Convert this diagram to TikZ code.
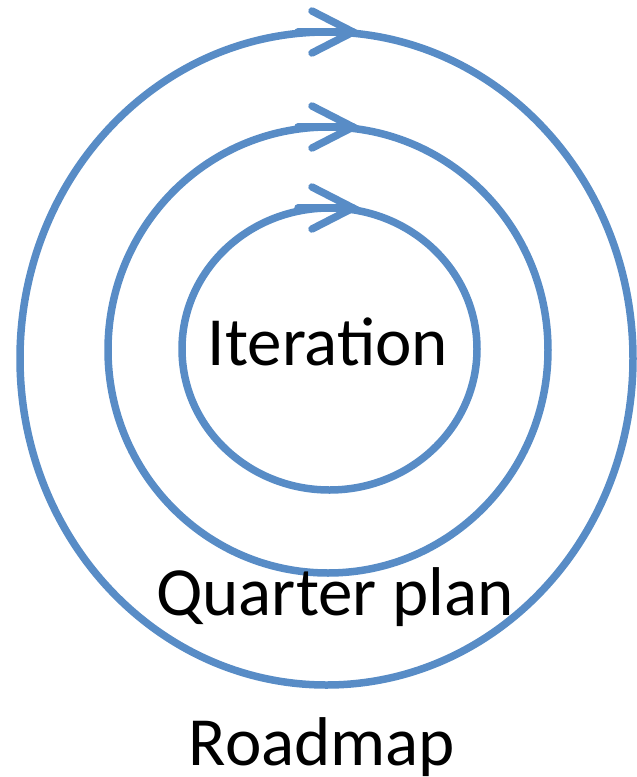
\documentclass[tikz,border=0pt]{standalone}
\usepackage{fontspec}
\setmainfont{Carlito}
\usetikzlibrary{shapes.geometric}
\definecolor{ringblue}{RGB}{88,140,198}
\tikzset{
  ring/.style={ellipse, draw=ringblue, line width=7.5pt, inner sep=0pt, fill=none},
  chev/.style={draw=ringblue, line width=7.5pt, line cap=round, line join=miter},
  lbl/.style={inner sep=0pt, anchor=base, text=black, font=\fontsize{69}{69}\selectfont},
}
\begin{document}
\begin{tikzpicture}[x=1pt,y=-1pt]
\useasboundingbox (0,0) rectangle (637,777);
\node[ring, minimum width=613pt, minimum height=653pt] (outer) at (326.5,358.5) {};
\node[ring, minimum width=440pt, minimum height=446pt] (middle) at (328,350) {};
\node[ring, minimum width=295pt, minimum height=282pt] (inner) at (329.5,349) {};
% arrow chevrons
\coordinate (ot) at (353,32);
\coordinate (mt) at (353,127);
\coordinate (it) at (353,208);
\draw[chev] (312,11) -- (ot) -- (312,53);
\draw[chev] (298,32) -- (ot);
\draw[chev] (312,106) -- (mt) -- (312,148);
\draw[chev] (298,127) -- (mt);
\draw[chev] (312,187) -- (it) -- (312,229);
\draw[chev] (298,208) -- (it);
% labels
\node[lbl] (iter) at (328,365) {Iteration};
\node[lbl] (qp) at (335,615) {Quarter plan};
\node[lbl] (rm) at (322,765) {Roadmap};
\end{tikzpicture}
\end{document}
